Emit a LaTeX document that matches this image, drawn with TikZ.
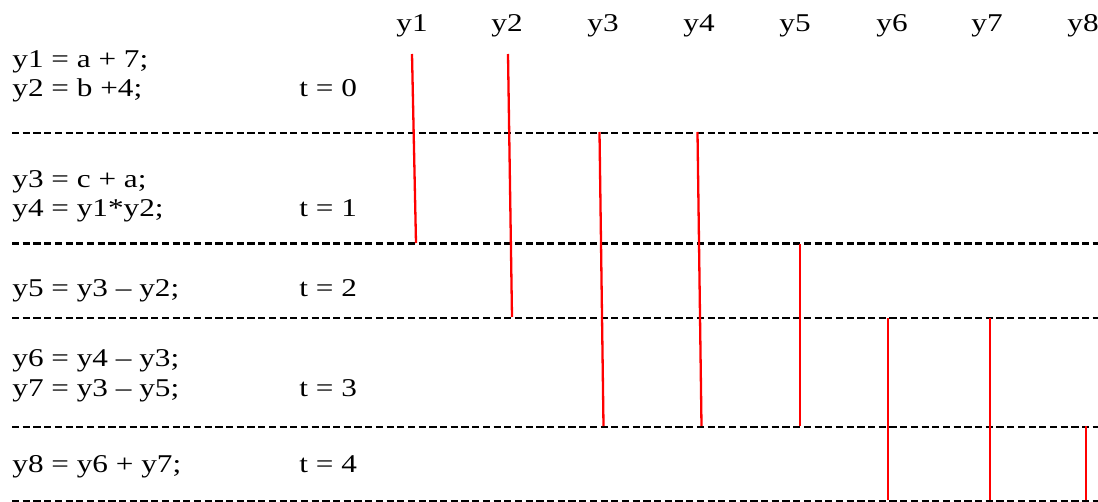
\documentclass[tikz,border=0pt]{standalone}
\usepackage{fontspec}
\setmainfont{Liberation Serif}[FakeStretch=1.22]
\usetikzlibrary{positioning}

\begin{document}
\begin{tikzpicture}[x=0.5pt, y=-0.5pt,
		font=\fontsize{12.8}{15}\selectfont,
		stmt/.style={anchor=base west, inner sep=0pt},
		varname/.style={anchor=base, inner sep=0pt},
		sepline/.style={line width=1.15pt, dash pattern=on 3.6pt off 1.75pt},
		life/.style={red, line width=1.15pt}]
		\useasboundingbox (0,0) rectangle (1098,502);
		
		\node[stmt] (s1) at (12,68) {y1 = a + 7;};
		\node[stmt] (s2) at (12,97) {y2 = b +4;};
		\node[stmt] (s3) at (12,188) {y3 = c + a;};
		\node[stmt] (s4) at (12,216.5) {y4 = y1*y2;};
		\node[stmt] (s5) at (12,296.5) {y5 = y3 -- y2;};
		\node[stmt] (s6) at (12,366) {y6 = y4 -- y3;};
		\node[stmt] (s7) at (12,396.5) {y7 = y3 -- y5;};
		\node[stmt] (s8) at (12,472.5) {y8 = y6 + y7;};
		
		\node[stmt] (t0) at (299,97) {t = 0};
		\node[stmt] (t1) at (299,216.5) {t = 1};
		\node[stmt] (t2) at (299,296.5) {t = 2};
		\node[stmt] (t3) at (299,396.5) {t = 3};
		\node[stmt] (t4) at (299,472.5) {t = 4};
		
		\foreach \i/\x in {1/412,2/507,3/603,4/699,5/795,6/892,7/987,8/1083}
		\node[varname] (v\i) at (\x,31.5) {y\i};
		
		\foreach \y in {133,243.5,318,427,501}
		\draw[sepline] (12,\y) -- (1100,\y);
		
		\coordinate (a1) at (412,54);   \coordinate (b1) at (416,243);
		\coordinate (a2) at (508,54);   \coordinate (b2) at (512,317);
		\coordinate (a3) at (599.5,132); \coordinate (b3) at (603.5,426);
		\coordinate (a4) at (697.5,132); \coordinate (b4) at (701.5,426);
		\coordinate (a5) at (800,244);  \coordinate (b5) at (800,426);
		\coordinate (a6) at (888,318);  \coordinate (b6) at (888,500);
		\coordinate (a7) at (990,318);  \coordinate (b7) at (990,500);
		\coordinate (a8) at (1086,426); \coordinate (b8) at (1086,500);
		
		\foreach \i in {1,...,8}
		\draw[life] (a\i) -- (b\i);
	\end{tikzpicture}
\end{document}
